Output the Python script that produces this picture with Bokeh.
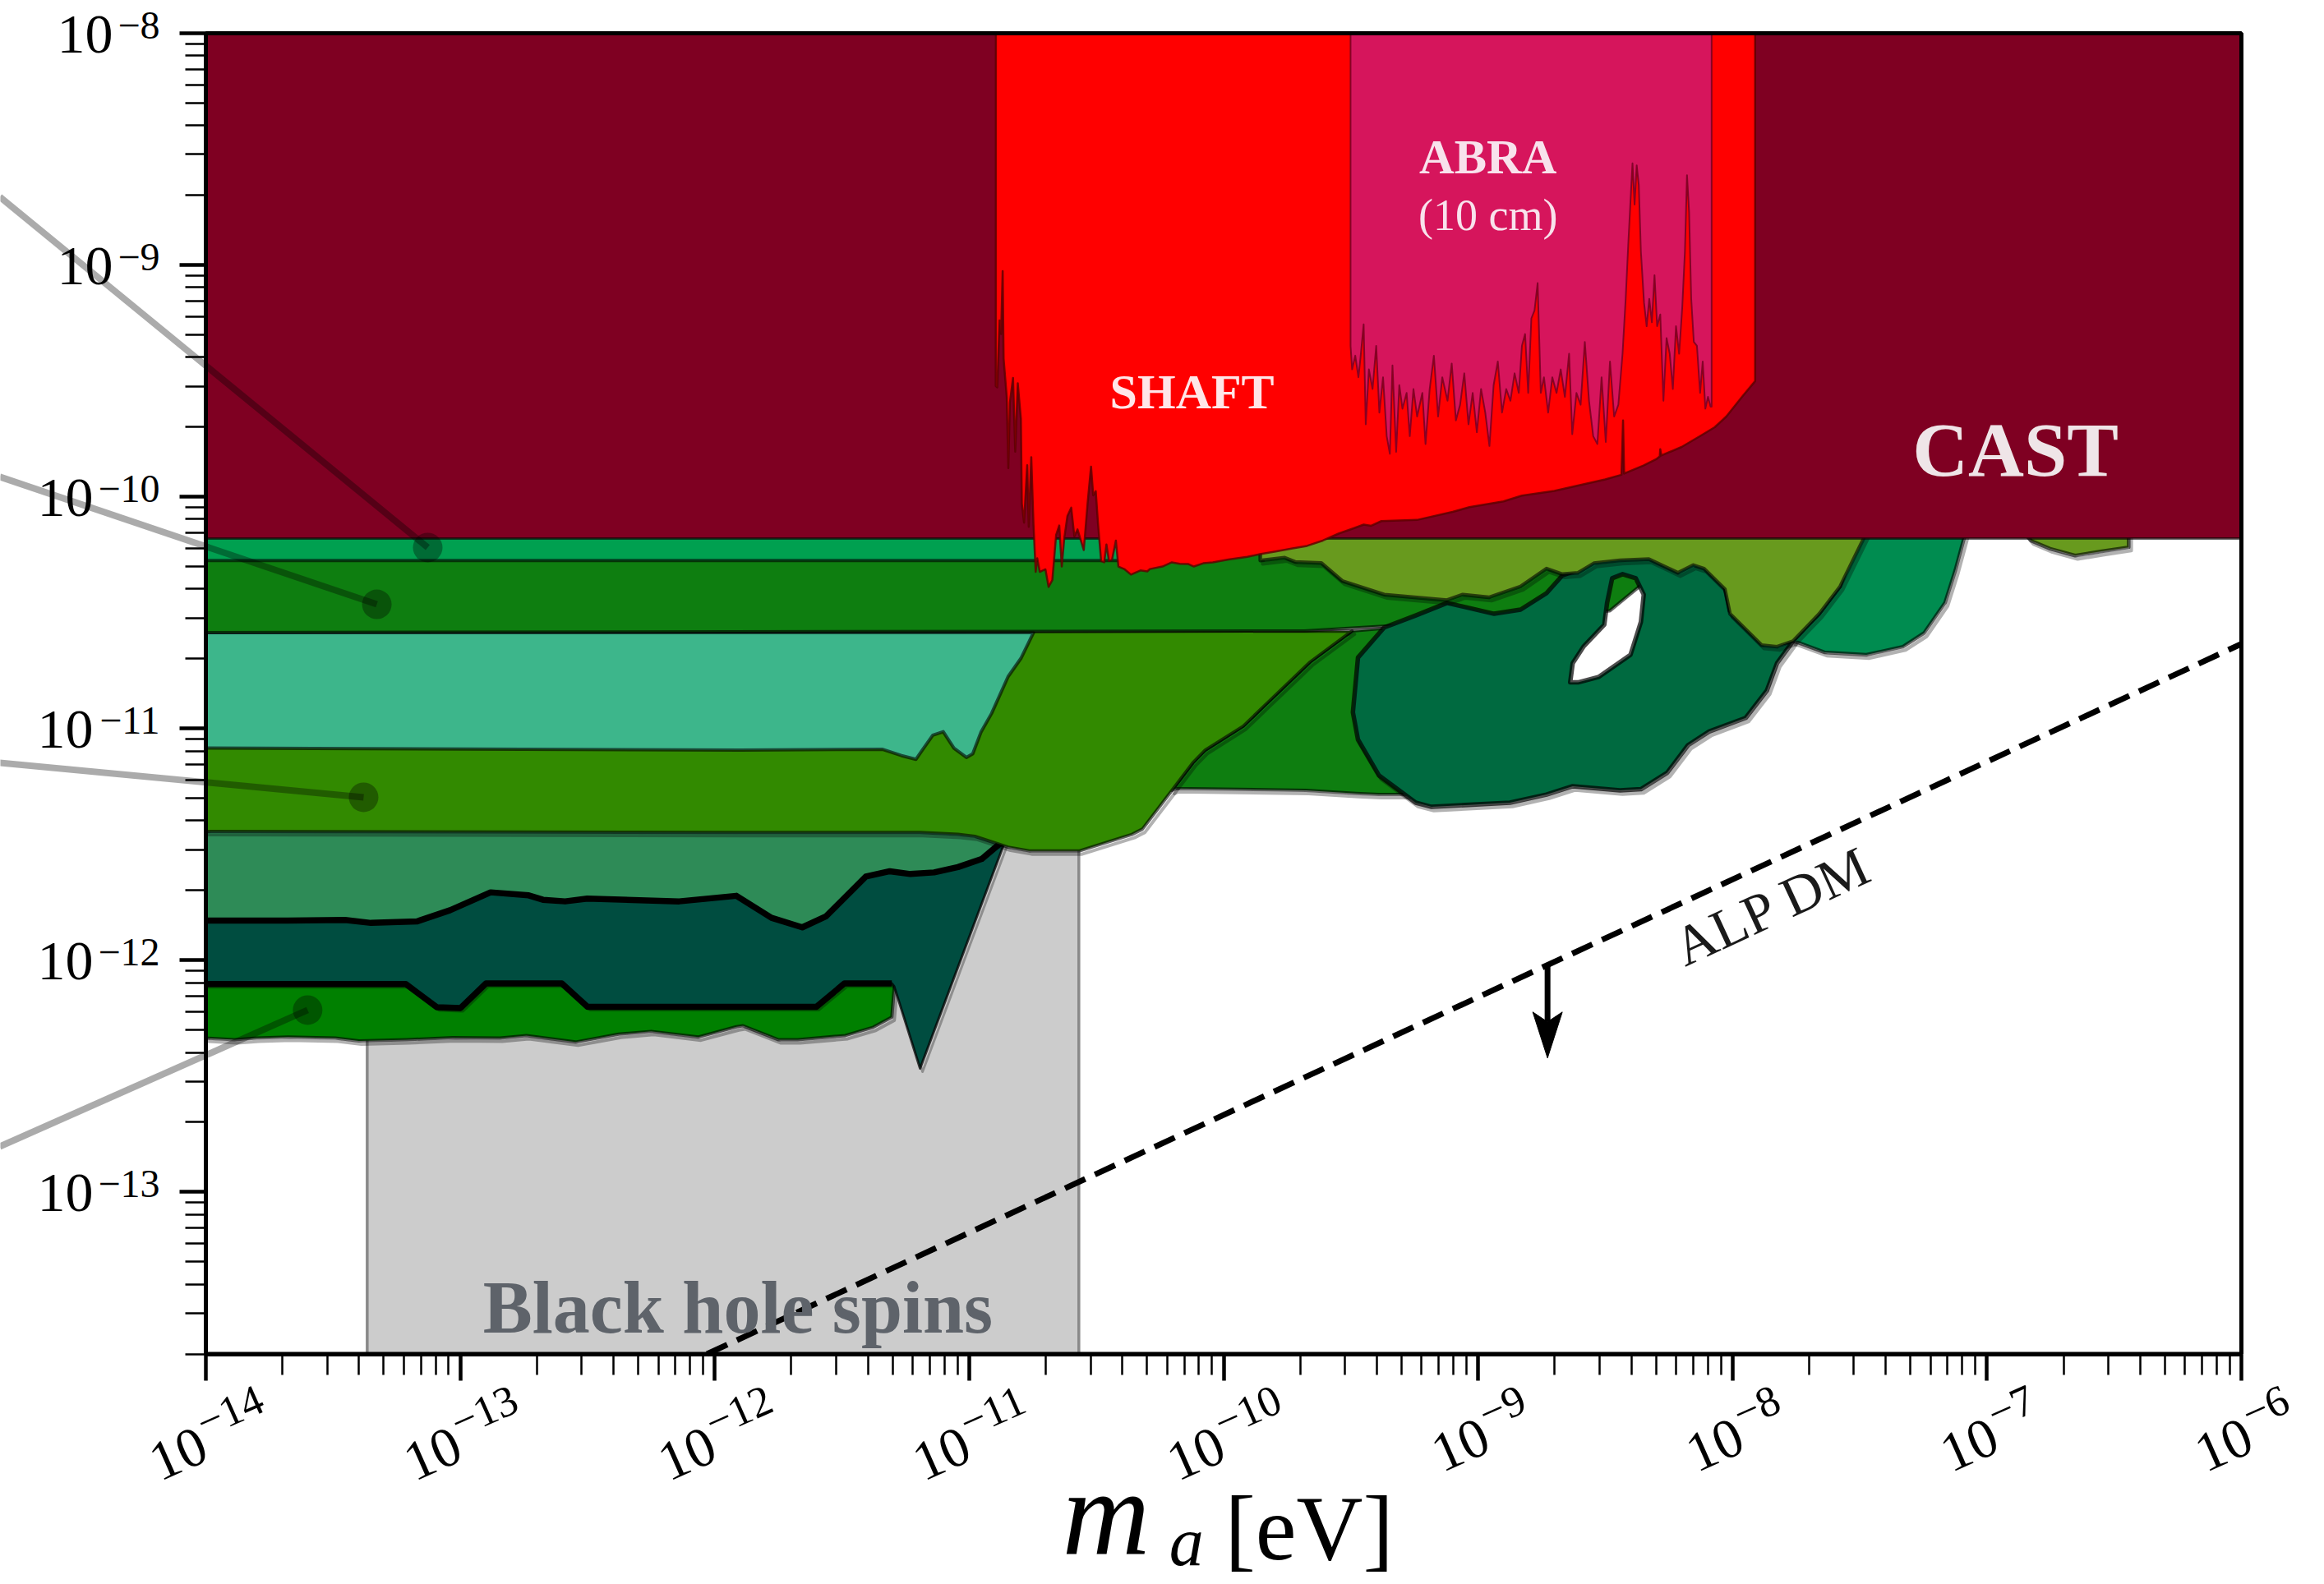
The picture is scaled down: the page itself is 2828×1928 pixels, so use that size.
import math
from bokeh.plotting import figure
from bokeh.models import (Range1d, FixedTicker, CustomJSTickFormatter,
                          ColumnDataSource)
from bokeh.core.properties import value
from bokeh.embed import file_html
from bokeh.resources import INLINE

# ------------------------------------------------------------------
# Axes / ticks
# ------------------------------------------------------------------
x_lim = (1e-14, 1e-6)
y_lim = (2e-14, 1e-8)
x_ticks = [1e-14, 1e-13, 1e-12, 1e-11, 1e-10, 1e-9, 1e-8, 1e-7, 1e-6]
x_tick_exponents = ["\u221214", "\u221213", "\u221212", "\u221211", "\u221210",
                    "\u22129", "\u22128", "\u22127", "\u22126"]
y_ticks = [1e-13, 1e-12, 1e-11, 1e-10, 1e-9, 1e-8]
y_tick_exponents = ["\u221213", "\u221212", "\u221211", "\u221210", "\u22129", "\u22128"]
x_minor = [k * 10.0 ** e for e in range(-14, -6) for k in range(2, 10)]
y_minor = [k * 10.0 ** e for e in range(-14, -8) for k in range(2, 10)]

# ------------------------------------------------------------------
# Regions: (log10 m_a [eV], log10 g [GeV^-1])
# ------------------------------------------------------------------
bh_spins = [(-13.366, -13.699), (-10.569, -13.699), (-10.569, -11.45), (-13.366, -11.45)]

band_seagreen = [(-14, -11.407), (-11.021, -11.407), (-10.870, -11.483), (-10.934, -11.649),
                 (-11.034, -11.950), (-14, -11.950)]

band_green_low = [(-14, -12.046), (-11.295, -12.046), (-11.295, -12.123), (-11.304, -12.245),
                  (-11.377, -12.289), (-11.487, -12.325), (-11.674, -12.343), (-11.749, -12.343),
                  (-11.889, -12.283), (-11.915, -12.287), (-12.064, -12.331), (-12.250, -12.307),
                  (-12.378, -12.319), (-12.547, -12.353), (-12.740, -12.325), (-12.844, -12.336),
                  (-13.031, -12.334), (-13.211, -12.343), (-13.398, -12.348), (-13.491, -12.336),
                  (-13.677, -12.331), (-13.800, -12.336), (-13.887, -12.343), (-14, -12.336)]

teal_top = [(-14, -11.829), (-13.677, -11.829), (-13.453, -11.826), (-13.351, -11.839),
            (-13.169, -11.832), (-13.040, -11.784), (-12.881, -11.707), (-12.731, -11.720),
            (-12.675, -11.739), (-12.588, -11.746), (-12.501, -11.734), (-12.140, -11.746),
            (-11.915, -11.722), (-11.777, -11.817), (-11.656, -11.858), (-11.563, -11.811),
            (-11.406, -11.639), (-11.312, -11.616), (-11.231, -11.628), (-11.138, -11.621),
            (-11.044, -11.598), (-10.951, -11.563), (-10.887, -11.504), (-10.858, -11.483)]
teal_spike = [(-10.887, -11.504), (-11.193, -12.467), (-11.295, -12.112)]
teal_bottom = [(-11.304, -12.100), (-11.490, -12.100), (-11.600, -12.201), (-12.500, -12.201),
               (-12.601, -12.100), (-12.899, -12.100), (-12.999, -12.206), (-13.092, -12.203),
               (-13.214, -12.103), (-14, -12.103)]

band_green_mid = [(-9.495, -10.579), (-9.041, -10.537), (-9.041, -11.285), (-9.391, -11.285),
                  (-9.479, -11.280), (-9.676, -11.267), (-10.187, -11.259), (-10.203, -11.267),
                  (-10.121, -11.148), (-10.072, -11.093), (-9.923, -10.990), (-9.841, -10.903),
                  (-9.660, -10.713)]

band_olive_green = [(-14, -10.586), (-9.495, -10.579), (-9.660, -10.713), (-9.841, -10.903),
                    (-9.923, -10.990), (-10.072, -11.093), (-10.121, -11.148), (-10.203, -11.267),
                    (-10.319, -11.434), (-10.360, -11.457), (-10.566, -11.528), (-10.764, -11.528),
                    (-10.847, -11.512), (-10.978, -11.465), (-11.044, -11.457), (-11.192, -11.449),
                    (-11.901, -11.449), (-14, -11.444)]

band_turquoise = [(-14, -10.586), (-10.747, -10.586), (-10.797, -10.698), (-10.847, -10.776),
                  (-10.912, -10.935), (-10.953, -11.014), (-10.986, -11.109), (-11.011, -11.125),
                  (-11.060, -11.085), (-11.102, -11.014), (-11.143, -11.029), (-11.184, -11.093),
                  (-11.209, -11.133), (-11.266, -11.117), (-11.340, -11.090), (-11.901, -11.093),
                  (-14, -11.084)]

band_green_top = [(-14, -10.225), (-8.284, -10.225), (-8.284, -10.352), (-8.359, -10.381),
                  (-8.482, -10.492), (-9.268, -10.552), (-9.682, -10.579), (-14, -10.586)]

band_bright = [(-14, -10.15), (-10.25, -10.15), (-10.25, -10.275), (-14, -10.275)]

blob_outer = [(-9.369, -10.564), (-9.245, -10.512), (-9.122, -10.458), (-8.937, -10.505),
              (-8.833, -10.487), (-8.731, -10.416), (-8.669, -10.340), (-8.607, -10.315),
              (-8.545, -10.274), (-8.442, -10.262), (-8.329, -10.256), (-8.215, -10.315),
              (-8.154, -10.282), (-8.112, -10.297), (-8.030, -10.386), (-8.010, -10.492),
              (-7.886, -10.628), (-7.825, -10.634), (-7.762, -10.623), (-7.825, -10.718),
              (-7.865, -10.836), (-7.948, -10.954), (-8.092, -11.013), (-8.175, -11.072),
              (-8.257, -11.191), (-8.360, -11.262), (-8.442, -11.267), (-8.628, -11.249),
              (-8.731, -11.285), (-8.875, -11.320), (-9.183, -11.338), (-9.245, -11.320),
              (-9.390, -11.202), (-9.472, -11.048), (-9.492, -10.930), (-9.472, -10.694)]
blob_hole = [(-8.628, -10.718), (-8.638, -10.801), (-8.607, -10.801), (-8.525, -10.777),
             (-8.401, -10.682), (-8.360, -10.540), (-8.349, -10.422), (-8.380, -10.352),
             (-8.432, -10.334), (-8.473, -10.352), (-8.493, -10.458), (-8.504, -10.552),
             (-8.586, -10.647)]

medium_green = [(-7.497, -10.15), (-7.083, -10.15), (-7.124, -10.316), (-7.165, -10.458),
                (-7.247, -10.588), (-7.330, -10.647), (-7.474, -10.682), (-7.639, -10.671),
                (-7.742, -10.629), (-7.762, -10.623), (-7.659, -10.505), (-7.577, -10.387)]

olive = [(-9.856, -10.15), (-7.471, -10.15), (-7.577, -10.387), (-7.659, -10.505), (-7.762, -10.623),
         (-7.825, -10.647), (-7.886, -10.640), (-8.010, -10.505), (-8.030, -10.399), (-8.112, -10.310),
         (-8.154, -10.295), (-8.215, -10.328), (-8.329, -10.269), (-8.442, -10.274), (-8.545, -10.287),
         (-8.607, -10.328), (-8.669, -10.334), (-8.731, -10.310), (-8.833, -10.387), (-8.957, -10.434),
         (-9.060, -10.422), (-9.122, -10.446), (-9.369, -10.422), (-9.534, -10.363), (-9.616, -10.286),
         (-9.719, -10.281), (-9.760, -10.263), (-9.856, -10.275)]

olive_small = [(-6.857, -10.15), (-6.826, -10.19), (-6.752, -10.224), (-6.653, -10.254),
               (-6.554, -10.236), (-6.443, -10.218), (-6.443, -10.15)]

cast = [(-14, -8.0), (-6, -8.0), (-6, -10.1805), (-14, -10.1805)]

shaft = [(-10.895, -8.0), (-10.8956, -9.522), (-10.8894, -9.528), (-10.8808, -9.239), (-10.8746, -9.298),
         (-10.8684, -9.026), (-10.8647, -9.404), (-10.8524, -9.569), (-10.8462, -9.876), (-10.8400, -9.593),
         (-10.8277, -9.487), (-10.8190, -9.805), (-10.8091, -9.510), (-10.7968, -9.664), (-10.7931, -10.029),
         (-10.7844, -10.112), (-10.7720, -9.864), (-10.7659, -10.130), (-10.7560, -9.829), (-10.7473, -10.118),
         (-10.7387, -10.324), (-10.7325, -10.265), (-10.7226, -10.324), (-10.7003, -10.313), (-10.6880, -10.389),
         (-10.6732, -10.360), (-10.6583, -10.165), (-10.6460, -10.124), (-10.6361, -10.301), (-10.6262, -10.177),
         (-10.6138, -10.083), (-10.5990, -10.047), (-10.5866, -10.171), (-10.5743, -10.141), (-10.5496, -10.230),
         (-10.5347, -10.029), (-10.5211, -9.870), (-10.5125, -9.994), (-10.5026, -9.976), (-10.4939, -10.112),
         (-10.4816, -10.277), (-10.4692, -10.283), (-10.4606, -10.206), (-10.4507, -10.277), (-10.4383, -10.271),
         (-10.4235, -10.189), (-10.4136, -10.301), (-10.3889, -10.313), (-10.3642, -10.336), (-10.3271, -10.318),
         (-10.300, -10.322), (-10.2900, -10.312), (-10.2406, -10.301), (-10.2035, -10.283), (-10.1726, -10.289),
         (-10.140, -10.290), (-10.1170, -10.301), (-10.080, -10.287), (-10.0428, -10.283), (-9.9810, -10.271),
         (-9.9068, -10.259), (-9.8574, -10.248), (-9.7956, -10.236), (-9.7338, -10.224), (-9.6720, -10.212),
         (-9.6102, -10.189), (-9.5484, -10.159), (-9.4866, -10.135), (-9.4495, -10.120), (-9.420, -10.125),
         (-9.380, -10.105), (-9.240, -10.100), (-9.100, -10.065), (-9.0337, -10.045), (-8.900, -10.020),
         (-8.8277, -9.995), (-8.700, -9.975), (-8.6218, -9.955), (-8.500, -9.925), (-8.4364, -9.905),
         (-8.4302, -9.671), (-8.4260, -9.900), (-8.350, -9.865), (-8.300, -9.838), (-8.2860, -9.826),
         (-8.2840, -9.795), (-8.2800, -9.822), (-8.200, -9.785), (-8.1274, -9.738), (-8.070, -9.700),
         (-8.0244, -9.654), (-7.9626, -9.569), (-7.9111, -9.501), (-7.9111, -8.0)]

abra = [(-9.5012, -8.0), (-9.5012, -9.3488), (-9.4950, -9.4504), (-9.4827, -9.3911), (-9.4703, -9.4843),
        (-9.4621, -9.3996), (-9.4497, -9.2557), (-9.4415, -9.6876), (-9.4291, -9.4504), (-9.4147, -9.5351),
        (-9.4003, -9.3488), (-9.3879, -9.6368), (-9.3735, -9.4843), (-9.3591, -9.7384), (-9.3467, -9.8147),
        (-9.3364, -9.4335), (-9.3220, -9.8062), (-9.3096, -9.5182), (-9.2973, -9.6198), (-9.2808, -9.5520),
        (-9.2684, -9.7384), (-9.2540, -9.5351), (-9.2396, -9.6537), (-9.2190, -9.5520), (-9.2066, -9.7723),
        (-9.1902, -9.5351), (-9.1737, -9.3911), (-9.1572, -9.6537), (-9.1407, -9.4843), (-9.1201, -9.5859),
        (-9.1036, -9.4250), (-9.0872, -9.6707), (-9.0707, -9.6029), (-9.0542, -9.4673), (-9.0377, -9.6876),
        (-9.0212, -9.5520), (-9.0048, -9.7215), (-8.9883, -9.5351), (-8.9718, -9.6368), (-8.9553, -9.7808),
        (-8.9389, -9.5182), (-8.9224, -9.4165), (-8.9059, -9.6368), (-8.8894, -9.5351), (-8.8729, -9.5859),
        (-8.8565, -9.4673), (-8.8400, -9.5520), (-8.8277, -9.3488), (-8.8153, -9.2980), (-8.8030, -9.5520),
        (-8.7906, -9.2302), (-8.7782, -9.1963), (-8.7659, -9.0778), (-8.7535, -9.5520), (-8.7411, -9.4843),
        (-8.7247, -9.6368), (-8.7082, -9.4843), (-8.6917, -9.5520), (-8.6752, -9.4504), (-8.6588, -9.5690),
        (-8.6423, -9.3827), (-8.6299, -9.7300), (-8.6134, -9.5520), (-8.5970, -9.6029), (-8.5805, -9.3318),
        (-8.5640, -9.5859), (-8.5475, -9.7384), (-8.5311, -9.7723), (-8.5146, -9.4843), (-8.4981, -9.7638),
        (-8.4816, -9.4165), (-8.4652, -9.6537), (-8.4487, -9.6029), (-8.4322, -9.3827), (-8.4199, -9.1456),
        (-8.4096, -8.9084), (-8.4013, -8.7306), (-8.3931, -8.5612), (-8.3849, -8.7390), (-8.3766, -8.5697),
        (-8.3684, -8.6543), (-8.3601, -8.9423), (-8.3478, -9.1625), (-8.3375, -9.2641), (-8.3272, -9.1456),
        (-8.3169, -9.2472), (-8.3066, -9.0439), (-8.2963, -9.2641), (-8.2839, -9.2133), (-8.2716, -9.5859),
        (-8.2592, -9.3149), (-8.2468, -9.3827), (-8.2345, -9.5351), (-8.2221, -9.2641), (-8.2098, -9.3827),
        (-8.1974, -9.1795), (-8.1871, -8.9423), (-8.1789, -8.6120), (-8.1706, -8.7729), (-8.1624, -9.1456),
        (-8.1521, -9.3318), (-8.1398, -9.3488), (-8.1274, -9.5520), (-8.1171, -9.4165), (-8.1068, -9.6198),
        (-8.0965, -9.5690), (-8.0862, -9.6114), (-8.0821, -9.6114), (-8.0821, -8.0)]

alp_dm_logm = [-12.03, -6.0]
alp_dm_logg = [-13.699, -10.635]
arrow_logm = -8.727
arrow_logg = (-12.020, -12.422)

leader_start = [(-14.81, -8.706), (-14.81, -9.914), (-14.81, -11.148), (-14.81, -12.804)]
leader_end = [(-13.128, -10.219), (-13.328, -10.464), (-13.380, -11.297), (-13.600, -12.215)]

# ------------------------------------------------------------------
# Layout (page pixels of the plot box; the page has no body margin)
# ------------------------------------------------------------------
FIG_W, FIG_H, MARGIN = 2826, 1926, 0
PL, PR, PT, PB = 250.0, 2727.0, 40.0, 1647.5
lx0, lx1 = math.log10(x_lim[0]), math.log10(x_lim[1])
ly0, ly1 = math.log10(y_lim[0]), math.log10(y_lim[1])
ppx = (PR - PL) / (lx1 - lx0)
ppy = (PB - PT) / (ly1 - ly0)
x_range = Range1d(10 ** (lx0 - (PL - MARGIN) / ppx), 10 ** (lx1 + (MARGIN + FIG_W - PR) / ppx))
y_range = Range1d(10 ** (ly0 - (MARGIN + FIG_H - PB) / ppy), 10 ** (ly1 + (PT - MARGIN) / ppy))

p = figure(width=FIG_W, height=FIG_H, x_axis_type="log", y_axis_type="log",
           x_range=x_range, y_range=y_range, output_backend="svg",
           toolbar_location=None, min_border=0, outline_line_color=None,
           background_fill_color="white", border_fill_color="white")
p.xgrid.visible = False
p.ygrid.visible = False

for ax, loc, bounds, ticks, minor in [(p.xaxis[0], y_lim[0], x_lim, x_ticks, x_minor),
                                      (p.yaxis[0], x_lim[0], y_lim, y_ticks, y_minor)]:
    ax.fixed_location = loc
    ax.bounds = bounds
    ax.ticker = FixedTicker(ticks=ticks, minor_ticks=minor)
    ax.formatter = CustomJSTickFormatter(code="return ''")
    ax.axis_line_width = 5
    ax.axis_line_color = "black"
    ax.major_tick_in = 0
    ax.major_tick_out = 32
    ax.major_tick_line_width = 4.5
    ax.minor_tick_in = 0
    ax.minor_tick_out = 25
    ax.minor_tick_line_width = 2.5

FONT = value("Liberation Serif")
KB = 0.33   # empirical baseline correction (fraction of font size)
SHADOW_DX, SHADOW_DY = 3.0, 4.0   # px, drop-shadow of region outlines


def xy(pairs):
    return [10.0 ** a for a, b in pairs], [10.0 ** b for a, b in pairs]


def shadow(pairs, lw=4.5):
    m = [10.0 ** (a + SHADOW_DX / ppx) for a, b in pairs]
    g = [10.0 ** (b - SHADOW_DY / ppy) for a, b in pairs]
    p.patch(m, g, fill_color=None, line_color="black", line_alpha=0.3, line_width=lw,
            line_join="round")


def region(pairs, fill, lc="black", la=0.6, lw=4, shade=False):
    if shade:
        shadow(pairs, lw)
    m, g = xy(pairs)
    p.patch(m, g, fill_color=fill, line_color=lc, line_alpha=la, line_width=lw,
            line_join="round")


# ------------------------------------------------------------------
# Regions, bottom to top
# ------------------------------------------------------------------
region(bh_spins, "#CCCCCC", lc="#7F7F7F", la=0.9, lw=3.5)
region(band_seagreen, "#2E8B57")
region(band_green_low, "#008000", shade=True)
region(teal_top + teal_spike[1:] + teal_bottom, "#004D40", la=0.75, lw=3, shade=True)
tm, tg = xy(teal_top)
p.line(tm, tg, line_color="black", line_width=7.5, line_join="round")
bm_, bg_ = xy(teal_bottom)
p.line(bm_, bg_, line_color="black", line_width=7.5, line_join="round")
region(band_green_mid, "#0E7E10", shade=True)
region(band_olive_green, "#328A00", shade=True)
region(band_turquoise, "#3DB68B")
region(band_green_top, "#0E7E10")
region(band_bright, "#00A050")

shadow(blob_outer, 5.5)
om, og = xy(blob_outer)
hm, hg = xy(blob_hole)
p.multi_polygons(xs=[[[om, hm]]], ys=[[[og, hg]]], fill_color="#006A40",
                 line_color="black", line_alpha=0.7, line_width=5.5, line_join="round")

region(medium_green, "#008C50", lw=4.5, shade=True)
region(olive, "#689A1E", lw=4.5, shade=True)
region(olive_small, "#689A1E", lw=4.5, shade=True)
region(cast, "#7F0022", la=0.6, lw=3)
region(shaft, "#FF0000", lc="#5A0000", la=0.8, lw=2.5)
region(abra, "#D6155C", lc="#6E0020", la=0.8, lw=2)

# ALP DM line and arrow
p.line([10.0 ** v for v in alp_dm_logm], [10.0 ** v for v in alp_dm_logg],
       line_color="black", line_width=7, line_dash="27 13")
HEAD_L, HEAD_W, NOTCH = 56.0, 18.0, 12.0
tip = arrow_logg[1]
p.segment(x0=[10.0 ** arrow_logm], y0=[10.0 ** arrow_logg[0]],
          x1=[10.0 ** arrow_logm], y1=[10.0 ** (tip + (HEAD_L - NOTCH) / ppy)],
          line_color="black", line_width=7)
head = [(arrow_logm, tip), (arrow_logm - HEAD_W / ppx, tip + HEAD_L / ppy),
        (arrow_logm, tip + (HEAD_L - NOTCH) / ppy), (arrow_logm + HEAD_W / ppx, tip + HEAD_L / ppy)]
hx, hy = xy(head)
p.patch(hx, hy, fill_color="black", line_color="black", line_width=1)

# frame spines
p.quad(left=x_lim[0], right=x_lim[1], bottom=y_lim[0], top=y_lim[1],
       fill_color=None, line_color="black", line_width=5)

# leader lines to labels (cropped out of the original)
sm, sg = xy(leader_start)
em, eg = xy(leader_end)
p.segment(x0=sm, y0=sg, x1=em, y1=eg, line_color="black", line_alpha=0.33, line_width=8)
p.scatter(em, eg, size=36, fill_color="black", fill_alpha=0.33, line_color=None)


# ------------------------------------------------------------------
# Texts
# ------------------------------------------------------------------
def label(lm, lg, txt, size, color, style="normal", angle=0.0, align="center"):
    p.text(x=[10.0 ** lm], y=[10.0 ** lg], text=[txt], text_font=FONT,
           text_font_size=f"{size}px", text_font_style=style, text_color=color,
           text_align=align, text_baseline="alphabetic", angle=angle,
           x_offset=-KB * size * math.sin(angle), y_offset=-KB * size * math.cos(angle))


label(-6.888, -9.904, "CAST", 94, "#EFE5E8", "bold")
label(-10.124, -9.617, "SHAFT", 60, "#FFE6E8", "bold")
label(-8.961, -8.604, "ABRA", 59, "#F8E2EC", "bold")
label(-8.961, -8.850, "(10 cm)", 54, "#F8E2EC")
label(-11.909, -13.603, "Black hole spins", 90, "#5E636A", "bold")
label(-7.8134, -11.8377, "ALP DM", 68, "#1A1A1A", angle=math.radians(24.8))

# axis label  m_a [eV]
label(-10.635, -14.559, "m", 148, "black", "italic", align="left")
label(-10.214, -14.608, "a", 84, "black", "italic", align="left")
label(-9.995, -14.583, "[eV]", 112, "black", align="left")

# tick labels: "10" with a raised exponent
FS_B = 68


def exp_w(s, fs):
    return 0.564 * fs + 0.5 * fs * (len(s) - 1)


# x axis (rotated labels)
FS_EX = 53
TH = math.radians(24)
c, s = math.cos(TH), math.sin(TH)
wb, gap, rise, pad = float(FS_B), 3.0, 27.0, 36.0
hb, he = 0.676 * FS_B, 0.676 * FS_EX
xb, yb, xe, ye = [], [], [], []
for e in x_tick_exponents:
    L = wb + gap + exp_w(e, FS_EX)
    pts = [(0, 0), (wb, 0), (0, hb), (wb, hb), (wb + gap, rise), (L, rise),
           (wb + gap, rise + he), (L, rise + he)]
    X = [u * c - v * s for u, v in pts]
    Y = [-u * s - v * c for u, v in pts]
    ox = -(min(X) + max(X)) / 2.0
    oy = pad - min(Y)
    ex = ox + (wb + gap) * c - rise * s
    ey = oy - (wb + gap) * s - rise * c
    xb.append(ox - KB * FS_B * s)
    yb.append(oy - KB * FS_B * c)
    xe.append(ex - KB * FS_EX * s)
    ye.append(ey - KB * FS_EX * c)
n = len(x_ticks)
xsrc = ColumnDataSource(dict(x=x_ticks, y=[y_lim[0]] * n, base=["10"] * n, exp=x_tick_exponents,
                             xb=xb, yb=yb, xe=xe, ye=ye))
p.text(x="x", y="y", text="base", x_offset="xb", y_offset="yb", angle=TH, source=xsrc,
       text_align="left", text_baseline="alphabetic", text_font=FONT,
       text_font_size=f"{FS_B}px", text_color="black")
p.text(x="x", y="y", text="exp", x_offset="xe", y_offset="ye", angle=TH, source=xsrc,
       text_align="left", text_baseline="alphabetic", text_font=FONT,
       text_font_size=f"{FS_EX}px", text_color="black")

# y axis
FS_EY = 48
m_ = len(y_ticks)
exp_right = 194.0 - PL
ysrc = ColumnDataSource(dict(x=[x_lim[0]] * m_, y=y_ticks, base=["10"] * m_, exp=y_tick_exponents,
                             xb=[exp_right - exp_w(e, FS_EY) - 6 for e in y_tick_exponents],
                             yb=[24 - KB * FS_B] * m_, xe=[exp_right] * m_,
                             ye=[6 - KB * FS_EY] * m_))
p.text(x="x", y="y", text="base", x_offset="xb", y_offset="yb", source=ysrc,
       text_align="right", text_baseline="alphabetic", text_font=FONT,
       text_font_size=f"{FS_B}px", text_color="black")
p.text(x="x", y="y", text="exp", x_offset="xe", y_offset="ye", source=ysrc,
       text_align="right", text_baseline="alphabetic", text_font=FONT,
       text_font_size=f"{FS_EY}px", text_color="black")

open("out.html", "w").write(file_html(p, INLINE))
